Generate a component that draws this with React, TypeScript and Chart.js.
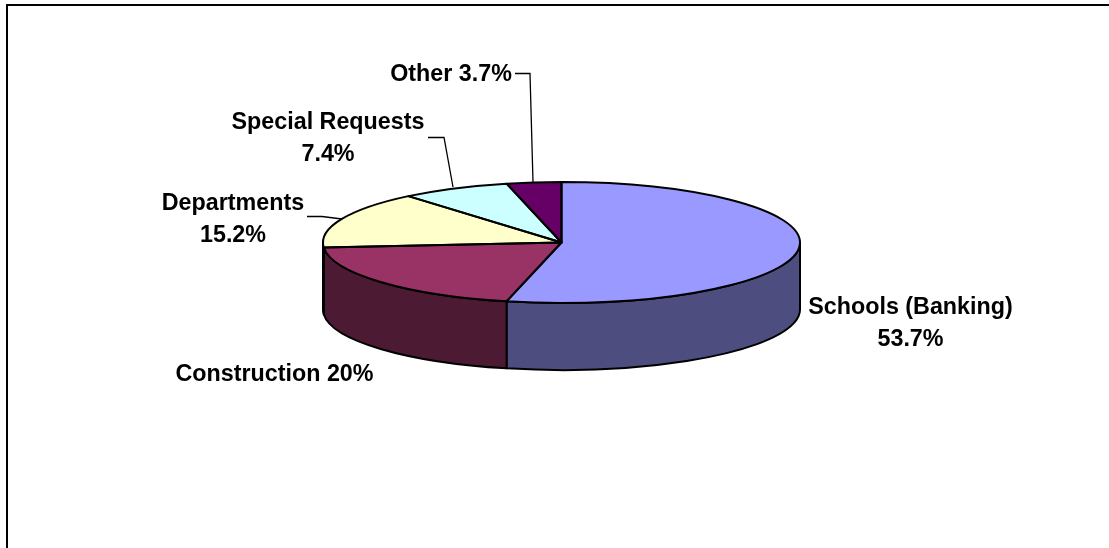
import React, { useEffect, useRef } from "react";
import { Chart, registerables } from "chart.js";

Chart.register(...registerables);

const categories = ["Schools (Banking)", "Construction", "Departments", "Special Requests", "Other"];
const shares = [53.7, 20, 15.2, 7.4, 3.7];
const topColours = ["#9999FF", "#993366", "#FFFFCC", "#CCFFFF", "#660066"];
const sideColours = ["#4D4D80", "#4D1A33", "#808066", "#668080", "#330033"];

const TILT = 60.5 / 238.5;
const DEPTH = 67;
const FONT = 'bold 23.3px "Liberation Sans", Arial, sans-serif';

// Text lines for every slice label, anchored at their horizontal centre.
const sliceLabels = [
  { lines: [`${categories[0]}`, `${shares[0]}%`], x: 910.5, y: [307.5, 339.5] },
  { lines: [`${categories[1]} ${shares[1]}%`], x: 274.5, y: [374.5] },
  { lines: [`${categories[2]}`, `${shares[2]}%`], x: 233, y: [203.5, 235.5] },
  { lines: [`${categories[3]}`, `${shares[3]}%`], x: 328, y: [122.5, 154.5] },
  { lines: [`${categories[4]} ${shares[4]}%`], x: 451, y: [74.5] },
];

// Leader lines joining the upper labels to their slices.
const leaders = [
  [[307, 216.5], [322, 216.5], [342, 219]],
  [[428, 137.5], [444, 137.5], [453, 187]],
  [[515, 73.5], [530, 73.5], [533, 182]],
];

const tiltedPie = {
  id: "tiltedPie",
  beforeDraw(chart: Chart) {
    const { ctx, width, height } = chart;
    ctx.save();
    ctx.fillStyle = "#FFFFFF";
    ctx.fillRect(0, 0, width, height);
    // Frame: only the top and left edges fall inside the canvas.
    ctx.fillStyle = "#000000";
    ctx.fillRect(6, 4, width - 6, 2);
    ctx.fillRect(6, 4, 2, height - 4);
    ctx.restore();
  },
  beforeDatasetsDraw(chart: Chart) {
    // Rim of the disc: only the part of each slice facing the viewer.
    const { ctx } = chart;
    const arcs = chart.getDatasetMeta(0).data as any[];
    ctx.save();
    ctx.lineWidth = 2;
    ctx.strokeStyle = "#000000";
    ctx.lineJoin = "round";
    arcs.forEach((arc, i) => {
      const a = Math.max(arc.startAngle, 0);
      const b = Math.min(arc.endAngle, Math.PI);
      if (b <= a) return;
      const rx = arc.outerRadius;
      const ry = rx * TILT;
      ctx.beginPath();
      ctx.ellipse(arc.x, arc.y, rx, ry, 0, a, b);
      ctx.ellipse(arc.x, arc.y + DEPTH, rx, ry, 0, b, a, true);
      ctx.closePath();
      ctx.fillStyle = sideColours[i];
      ctx.fill();
      ctx.stroke();
    });
    ctx.restore();
  },
  beforeDatasetDraw(chart: Chart) {
    // Squash the library's circular arcs into an ellipse around the pie centre.
    const { ctx } = chart;
    const first = chart.getDatasetMeta(0).data[0] as any;
    ctx.save();
    ctx.translate(first.x, first.y);
    ctx.scale(1, TILT);
    ctx.translate(-first.x, -first.y);
  },
  afterDatasetDraw(chart: Chart) {
    chart.ctx.restore();
  },
  afterDatasetsDraw(chart: Chart) {
    // Outlines are stroked untransformed so the pen keeps an even width.
    const { ctx } = chart;
    const arcs = chart.getDatasetMeta(0).data as any[];
    ctx.save();
    ctx.lineWidth = 2;
    ctx.strokeStyle = "#000000";
    ctx.lineJoin = "round";
    arcs.forEach((arc) => {
      const rx = arc.outerRadius;
      ctx.beginPath();
      ctx.moveTo(arc.x, arc.y);
      ctx.ellipse(arc.x, arc.y, rx, rx * TILT, 0, arc.startAngle, arc.endAngle);
      ctx.closePath();
      ctx.stroke();
    });
    ctx.restore();
  },
  afterDraw(chart: Chart) {
    const { ctx } = chart;
    ctx.save();
    ctx.strokeStyle = "#000000";
    ctx.lineWidth = 1.3;
    leaders.forEach((points) => {
      ctx.beginPath();
      points.forEach(([x, y], i) => (i ? ctx.lineTo(x, y) : ctx.moveTo(x, y)));
      ctx.stroke();
    });
    ctx.fillStyle = "#000000";
    ctx.font = FONT;
    ctx.textAlign = "center";
    ctx.textBaseline = "middle";
    sliceLabels.forEach((label) => {
      label.lines.forEach((line, i) => ctx.fillText(line, label.x, label.y[i]));
    });
    ctx.restore();
  },
};

export default function App() {
  const canvasRef = useRef<HTMLCanvasElement | null>(null);

  useEffect(() => {
    const chart = new Chart(canvasRef.current as HTMLCanvasElement, {
      type: "pie",
      data: {
        labels: categories,
        datasets: [{ data: shares, backgroundColor: topColours, borderWidth: 0 }],
      },
      options: {
        animation: false,
        responsive: false,
        events: [],
        layout: { padding: { left: 323, right: 309, top: 4, bottom: 67 } },
        plugins: { legend: { display: false }, tooltip: { enabled: false } },
      },
      plugins: [tiltedPie],
    });
    return () => chart.destroy();
  }, []);

  return (
    <div style={{ position: "absolute", left: 0, top: 0, width: 1109, height: 548 }}>
      <canvas ref={canvasRef} width={1109} height={548} style={{ display: "block" }} />
    </div>
  );
}
